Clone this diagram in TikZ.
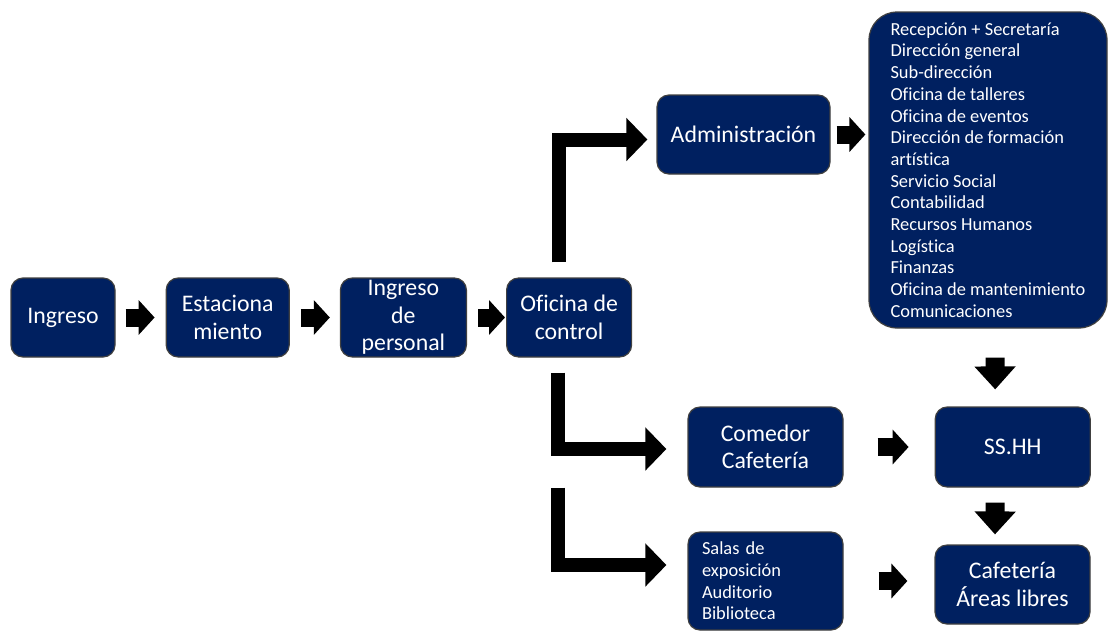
\documentclass[tikz,border=0pt]{standalone}
\usepackage{fontspec}
\setmainfont{Carlito}[Ligatures=CommonOff]
\usepackage{xcolor}
\usepackage{tikz}
\usetikzlibrary{positioning,arrows.meta}
\definecolor{azulosc}{HTML}{002060}

\begin{document}
\begin{tikzpicture}[
    x=1pt, y=-1pt,
    caja/.style={draw=black!75, line width=1.2pt, fill=azulosc, text=white, rounded corners=12pt,
        inner sep=0pt, minimum height=79pt, align=center, font=\fontsize{23.8}{27.5}\selectfont},
    lista_caja/.style={caja, rounded corners=28pt, align=left, font=\fontsize{18.4}{21.7}\selectfont},
    flecha/.style={line width=18pt, -{Triangle[length=16pt,width=34pt]}},
    flecha_v/.style={line width=19pt, -{Triangle[length=23pt,width=40pt]}},
    codo/.style={line width=14pt, line join=miter, -{Triangle[length=21pt,width=42pt]}}
]
\useasboundingbox (0,0) rectangle (1108,630);

% Nodes
\node (ingreso) [caja, minimum width=104pt] at (63,317.5) {Ingreso};
\node (estac) [caja, minimum width=123pt, right=50pt of ingreso] {Estaciona\\miento};
\node (personal) [caja, minimum width=126pt, right=50pt of estac] {Ingreso\\de\\personal};
\node (oficina) [caja, minimum width=125pt, right=39pt of personal] {Oficina de\\control};

\node (admin) [caja, minimum width=173pt] at (743.5,134.5) {Administración};
\node (areas) [lista_caja, minimum width=238pt, minimum height=316pt] at (988,170) {Recepción + Secretaría\\Dirección general\\Sub-dirección\\Oficina de talleres\\Oficina de eventos\\Dirección de formación\\artística\\Servicio Social\\Contabilidad\\Recursos Humanos\\Logística\\Finanzas\\Oficina de mantenimiento\\Comunicaciones};

\node (comedor) [caja, minimum width=155pt, minimum height=80pt] at (765.5,447) {Comedor\\Cafetería};
\node (sshh) [caja, minimum width=155pt, minimum height=80pt, right=91pt of comedor] {SS.HH};
\node (salas) [caja, align=left, text width=127pt, inner xsep=14pt, minimum height=98pt,
    font=\fontsize{18.4}{21.7}\selectfont] at (765.5,581) {Salas de\\exposición\\Auditorio\\Biblioteca};
\node (cafeteria) [caja, minimum width=155pt] at (1012.5,584.5) {Cafetería\\Áreas libres};

\coordinate (bifurca) at ([xshift=-11pt,yshift=-130pt]oficina.south);

% Connections
\draw [flecha] ([xshift=10pt]ingreso.east) -- ([xshift=-11pt]estac.west);
\draw [flecha] ([xshift=11pt]estac.east) -- ([xshift=-10pt]personal.west);
\draw [flecha] ([xshift=11pt]personal.east) -- ([xshift=-1pt]oficina.west);
\draw [flecha] ([xshift=6pt]admin.east) -- ([xshift=-3pt]areas.west |- admin.east);
\draw [flecha] ([xshift=34pt]comedor.east) -- ([xshift=-26pt]sshh.west);
\draw [flecha] ([xshift=35pt]salas.east) -- ([xshift=-27pt]salas.east -| cafeteria.west);

\draw [flecha_v] ([xshift=7pt,yshift=-29pt]areas.south) -- ([xshift=-17.5pt,yshift=17pt]sshh.north);
\draw [flecha_v] ([xshift=-17.5pt,yshift=-15pt]sshh.south) -- ([xshift=-17.5pt,yshift=10pt]cafeteria.north);

\draw [codo] ([xshift=-10pt,yshift=15pt]oficina.north) |- ([xshift=-9pt,yshift=-5pt]admin.west);
\draw [codo] ([xshift=-11pt,yshift=-15pt]oficina.south) |- ([xshift=-21pt,yshift=-2pt]comedor.west);
\draw [codo] (bifurca) |- ([xshift=-21pt,yshift=16pt]salas.west);

\end{tikzpicture}
\end{document}
